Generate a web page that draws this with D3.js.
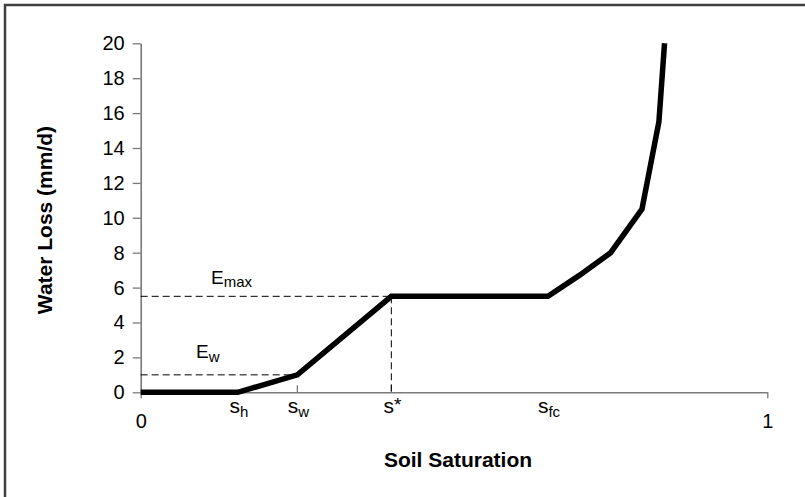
<!DOCTYPE html>
<html>
<head>
<meta charset="utf-8">
<script src="https://cdn.jsdelivr.net/npm/d3@7/dist/d3.min.js"></script>
<style>
  html, body { margin: 0; padding: 0; background: #fff; }
  svg { display: block; font-family: "Liberation Sans", Arial, sans-serif; }
</style>
</head>
<body>
<svg id="chart" width="805" height="497"></svg>
<script>
// Water-loss curve as a function of relative soil saturation
const saturation = [0, 0.155, 0.25, 0.40, 0.65, 0.70, 0.75, 0.80, 0.827, 0.836];
const waterLoss  = [0, 0, 1, 5.5, 5.5, 6.7, 8, 10.5, 15.5, 20];

// Characteristic saturation points (subscript / suffix for the "s" label)
const pointSuffix = ["h", "w", "*", "fc"];
const pointValue  = [0.155, 0.25, 0.40, 0.65];

// Evaporation levels
const levelName  = ["max", "w"];
const levelValue = [5.5, 1];

const yTickValues = [0, 2, 4, 6, 8, 10, 12, 14, 16, 18, 20];
const xTickValues = [0, 1];

const svg = d3.select("#chart");

// outer frame
svg.append("rect")
  .attr("x", 5).attr("y", 5).attr("width", 900).attr("height", 700)
  .attr("fill", "none").attr("stroke", "#404040").attr("stroke-width", 2.5);

const x = d3.scaleLinear().domain([0, 1]).range([140.7, 767.3]);
const y = d3.scaleLinear().domain([0, 20]).range([392.3, 43.3]);

const axisColor = "#7a7a7a";
const tickFont = "20px";

// y axis
const gy = svg.append("g")
  .attr("transform", `translate(${x(0)},0)`)
  .call(d3.axisLeft(y).tickValues(yTickValues).tickSize(8).tickPadding(8).tickSizeOuter(0).tickFormat(d3.format("d")));
gy.select(".domain").attr("stroke", axisColor).attr("stroke-width", 1.6);
gy.selectAll(".tick line").attr("stroke", axisColor).attr("stroke-width", 1.3);
gy.selectAll(".tick text").attr("fill", "#000").style("font-size", tickFont)
  .style("font-family", "'Liberation Sans', Arial, sans-serif");

// x axis
const gx = svg.append("g")
  .attr("transform", `translate(0,${y(0)})`)
  .call(d3.axisBottom(x).tickValues(xTickValues).tickSize(6).tickPadding(16).tickSizeOuter(0).tickFormat(d3.format("d")));
gx.select(".domain").attr("stroke", axisColor).attr("stroke-width", 1.6);
gx.selectAll(".tick line").attr("stroke", axisColor).attr("stroke-width", 1.3);
gx.selectAll(".tick text").attr("fill", "#000").style("font-size", tickFont)
  .style("font-family", "'Liberation Sans', Arial, sans-serif");

// small upward ticks at s_w and s*
svg.append("g").selectAll("line")
  .data([pointValue[1], pointValue[2]])
  .join("line")
  .attr("x1", d => x(d)).attr("x2", d => x(d))
  .attr("y1", y(0)).attr("y2", y(0) - 7)
  .attr("stroke", axisColor).attr("stroke-width", 1.3);

// dashed guide lines
const sStar = pointValue[2], sW = pointValue[1];
const guides = [
  [[0, levelValue[0]], [sStar, levelValue[0]]],
  [[sStar, levelValue[0]], [sStar, 0]],
  [[0, levelValue[1]], [sW, levelValue[1]]]
];
svg.append("g").selectAll("line")
  .data(guides)
  .join("line")
  .attr("x1", d => x(d[0][0])).attr("y1", d => y(d[0][1]))
  .attr("x2", d => x(d[1][0])).attr("y2", d => y(d[1][1]))
  .attr("stroke", "#000").attr("stroke-width", 1)
  .attr("stroke-dasharray", "7,4");

// the curve
const line = d3.line().x(d => x(d[0])).y(d => y(d[1]));
svg.append("path")
  .datum(saturation.map((s, i) => [s, waterLoss[i]]))
  .attr("d", line)
  .attr("fill", "none").attr("stroke", "#000").attr("stroke-width", 5.5)
  .attr("stroke-linejoin", "miter");

// saturation point labels under the axis
pointSuffix.forEach((suf, i) => {
  const t = svg.append("text")
    .attr("x", x(pointValue[i]) + 1)
    .attr("y", 412.7)
    .attr("text-anchor", "middle")
    .style("font-size", "21px");
  t.append("tspan").text("s");
  if (suf === "*") {
    t.append("tspan").attr("dy", -2).style("font-size", "19px").text("*");
  } else {
    t.append("tspan").attr("dy", 4).style("font-size", "15px").text(suf);
  }
});

// evaporation level labels
const levelLabelX = [211, 196];
const levelLabelY = [283.5, 358.3];
levelName.forEach((nm, i) => {
  const t = svg.append("text")
    .attr("x", levelLabelX[i])
    .attr("y", levelLabelY[i])
    .style("font-size", "19px");
  t.append("tspan").text("E");
  t.append("tspan").attr("dy", 3.5).style("font-size", "15px").text(nm);
});

// axis titles
svg.append("text")
  .attr("x", 458).attr("y", 467)
  .attr("text-anchor", "middle")
  .style("font-size", "21px").style("font-weight", "bold")
  .text("Soil Saturation");

svg.append("text")
  .attr("transform", "translate(51.5,220) rotate(-90)")
  .attr("text-anchor", "middle")
  .style("font-size", "21px").style("font-weight", "bold")
  .text("Water Loss (mm/d)");
</script>
</body>
</html>
